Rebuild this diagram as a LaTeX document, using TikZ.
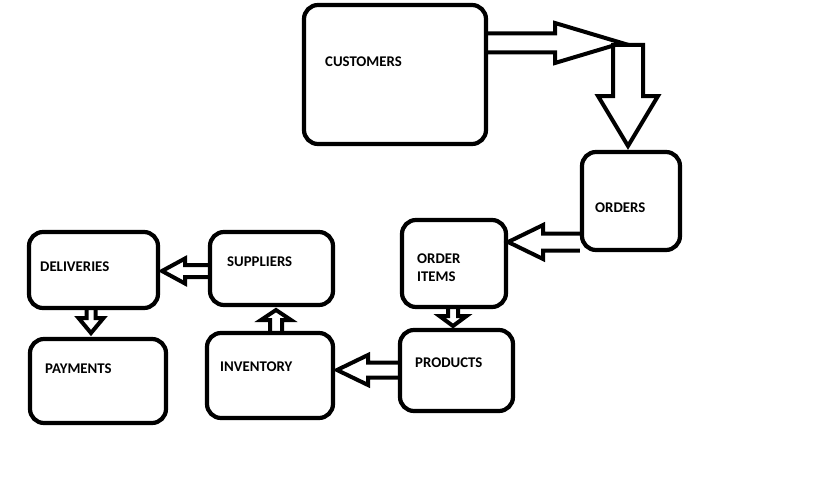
\documentclass[tikz,border=0pt]{standalone}
\usepackage{fontspec}
\setmainfont{Carlito}
\usetikzlibrary{calc}
\tikzset{
  box/.style={draw, line width=4.2pt, rounded corners=14pt, inner sep=0pt},
  lbl/.style={anchor=west, inner sep=0pt, align=left, font=\fontsize{14.8}{18}\selectfont\bfseries},
  blk/.style={draw, line width=4pt, line join=miter, miter limit=10}
}
% #1 start, #2 tip, #3 shaft half width, #4 head half width, #5 head length
\newcommand\blockarrow[5]{%
  \path ($(#2)!#5!(#1)$) coordinate (hb);
  \draw[blk] ($(#1)!#3!90:(#2)$) -- ($(hb)!#3!-90:(#1)$) -- ($(hb)!#4!-90:(#1)$)
    -- (#2) -- ($(hb)!#4!90:(#1)$) -- ($(hb)!#3!90:(#1)$) -- ($(#1)!#3!-90:(#2)$);
}
\newcommand\closedblockarrow[5]{%
  \path ($(#2)!#5!(#1)$) coordinate (hb);
  \draw[blk] ($(#1)!#3!90:(#2)$) -- ($(hb)!#3!-90:(#1)$) -- ($(hb)!#4!-90:(#1)$)
    -- (#2) -- ($(hb)!#4!90:(#1)$) -- ($(hb)!#3!90:(#1)$) -- ($(#1)!#3!-90:(#2)$) -- cycle;
}
\begin{document}
\begin{tikzpicture}[x=1pt,y=-1pt]
\useasboundingbox (0,0) rectangle (819,495);
\fill[white] (0,0) rectangle (819,495);

\node[box, minimum width=182pt, minimum height=139pt] (cust) at (395,74.5) {};
\node[box, minimum width=98pt, minimum height=98pt] (orders) at (631,201) {};
\node[box, minimum width=104pt, minimum height=87pt] (items) at (454,263.5) {};
\node[box, minimum width=113pt, minimum height=81pt] (products) at (456.5,370.5) {};
\node[box, minimum width=126pt, minimum height=85pt] (inventory) at (270,375.5) {};
\node[box, minimum width=123pt, minimum height=73pt] (suppliers) at (271.5,268.5) {};
\node[box, minimum width=129pt, minimum height=76pt] (deliveries) at (93.5,270) {};
\node[box, minimum width=136pt, minimum height=84pt] (payments) at (98,381) {};

\node[lbl] (tcust) at (325,62) {CUSTOMERS};
\node[lbl] (torders) at (595,208) {ORDERS};
\node[lbl] (titems) at (417,268) {ORDER\\ITEMS};
\node[lbl] (tproducts) at (415,363) {PRODUCTS};
\node[lbl] (tinventory) at (220,367) {INVENTORY};
\node[lbl] (tsuppliers) at (227,262) {SUPPLIERS};
\node[lbl] (tdeliveries) at (40,267) {DELIVERIES};
\node[lbl] (tpayments) at (45,369) {PAYMENTS};

% customers -> bend
\coordinate (s1) at (cust.east |- 0,43);
\coordinate (t1) at (622,43);
\blockarrow{s1}{t1}{9.5pt}{20pt}{67pt}
% bend -> orders
\coordinate (s2) at (628,45);
\coordinate (t2) at (628,146);
\closedblockarrow{s2}{t2}{15pt}{30pt}{50pt}
% orders -> order items
\coordinate (s3) at (orders.west |- 0,242);
\coordinate (t3) at (items.east |- 0,242);
\blockarrow{s3}{t3}{8.5pt}{17pt}{35pt}
% order items -> products
\coordinate (s4) at (items.south -| 453,0);
\coordinate (t4) at (453,326);
\blockarrow{s4}{t4}{5pt}{13.5pt}{10pt}
% products -> inventory
\coordinate (s5) at (products.west |- 0,370);
\coordinate (t5) at (337,370);
\blockarrow{s5}{t5}{7.5pt}{15pt}{31pt}
% inventory -> suppliers
\coordinate (s6) at (inventory.north -| 276,0);
\coordinate (t6) at (276,310);
\blockarrow{s6}{t6}{6pt}{15pt}{10pt}
% suppliers -> deliveries
\coordinate (s7) at (suppliers.west |- 0,271);
\coordinate (t7) at (162,271);
\blockarrow{s7}{t7}{6pt}{12.5pt}{23pt}
% deliveries -> payments
\coordinate (s8) at (deliveries.south -| 91,0);
\coordinate (t8) at (91,333);
\blockarrow{s8}{t8}{4.5pt}{12.5pt}{15pt}
\end{tikzpicture}
\end{document}
